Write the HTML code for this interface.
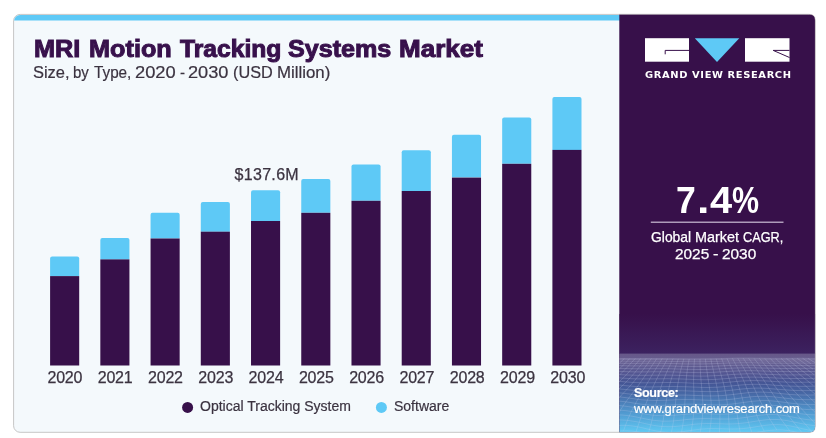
<!DOCTYPE html>
<html lang="en">
<head>
<meta charset="utf-8">
<title>MRI Motion Tracking Systems Market</title>
<style>
  html, body { margin: 0; padding: 0; background: #ffffff; }
  body { width: 826px; height: 438px; position: relative; overflow: hidden;
         font-family: "Liberation Sans", sans-serif; }
  .abs { position: absolute; white-space: nowrap; line-height: 1; }
  svg.abs { left: 0; top: 0; }
  .tw { font-size: 23.5px; font-weight: bold; color: #38114c; -webkit-text-stroke: 1px #38114c; transform-origin: 0 0; }
  .sw { font-size: 16px; color: #3b3340; -webkit-text-stroke: 0.2px #3b3340; transform-origin: 0 0; }
  .yr { top: 369.7px; font-size: 16px; color: #3b3340; width: 60px; text-align: center; letter-spacing: -0.2px; -webkit-text-stroke: 0.25px #3b3340; }
  .val { left: 234.5px; top: 166.5px; font-size: 16px; color: #3b3340; letter-spacing: 0.32px; -webkit-text-stroke: 0.25px #3b3340; }
  .leg { top: 399.1px; font-size: 14px; color: #3b3340; -webkit-text-stroke: 0.2px #3b3340; }
  .w { color: #ffffff; }
  .pw { color: #ffffff; font-size: 14px; -webkit-text-stroke: 0.25px #ffffff; transform-origin: 0 0; }
  .bw { color: #ffffff; font-size: 36px; font-weight: bold; transform-origin: 0 0; }
</style>
</head>
<body>

<svg class="abs" width="826" height="438" viewBox="0 0 826 438">
  <defs>
    <linearGradient id="g1" x1="0" y1="0" x2="0" y2="1">
      <stop offset="0" stop-color="#37104a"/>
      <stop offset="1" stop-color="#3c2260"/>
    </linearGradient>
    <linearGradient id="g2" x1="0" y1="0" x2="0" y2="1">
      <stop offset="0" stop-color="#3f2c69"/>
      <stop offset="0.25" stop-color="#414486"/>
      <stop offset="0.5" stop-color="#4767a4"/>
      <stop offset="0.75" stop-color="#519ad0"/>
      <stop offset="1" stop-color="#60caf4"/>
    </linearGradient>
    <linearGradient id="g3" x1="0" y1="0" x2="0" y2="1">
      <stop offset="0" stop-color="#ffffff" stop-opacity="0.21"/>
      <stop offset="0.3" stop-color="#ffffff" stop-opacity="0.2"/>
      <stop offset="1" stop-color="#ffffff" stop-opacity="0"/>
    </linearGradient>
    <clipPath id="cc"><rect x="14.1" y="14.9" width="800.4" height="416.9" rx="6" ry="6"/></clipPath>
    <clipPath id="cp"><path d="M619.3 14.5 H809.6 Q815.1 14.5 815.1 20 V426.7 Q815.1 432.2 809.6 432.2 H619.3 Z"/></clipPath>
  </defs>
  <rect x="13.6" y="14.4" width="801.4" height="417.9" rx="6.5" ry="6.5" fill="#f4f9fc" stroke="#c6c6c6" stroke-width="1"/>
  <g clip-path="url(#cc)">
    <rect x="13" y="14" width="607" height="6.5" fill="#5ec9f6"/>
  </g>
  <g id="bars">
    <path d="M50.10 276.10 V258.40 Q50.10 256.40 52.10 256.40 H77.20 Q79.20 256.40 79.20 258.40 V276.10 Z" fill="#5ec9f6"/>
    <rect x="50.10" y="276.10" width="29.1" height="89.40" fill="#37104a"/>
    <path d="M100.33 259.40 V240.10 Q100.33 238.10 102.33 238.10 H127.43 Q129.43 238.10 129.43 240.10 V259.40 Z" fill="#5ec9f6"/>
    <rect x="100.33" y="259.40" width="29.1" height="106.10" fill="#37104a"/>
    <path d="M150.56 238.50 V214.80 Q150.56 212.80 152.56 212.80 H177.66 Q179.66 212.80 179.66 214.80 V238.50 Z" fill="#5ec9f6"/>
    <rect x="150.56" y="238.50" width="29.1" height="127.00" fill="#37104a"/>
    <path d="M200.79 231.70 V204.10 Q200.79 202.10 202.79 202.10 H227.89 Q229.89 202.10 229.89 204.10 V231.70 Z" fill="#5ec9f6"/>
    <rect x="200.79" y="231.70" width="29.1" height="133.80" fill="#37104a"/>
    <path d="M251.02 221.00 V192.30 Q251.02 190.30 253.02 190.30 H278.12 Q280.12 190.30 280.12 192.30 V221.00 Z" fill="#5ec9f6"/>
    <rect x="251.02" y="221.00" width="29.1" height="144.50" fill="#37104a"/>
    <path d="M301.25 212.80 V181.00 Q301.25 179.00 303.25 179.00 H328.35 Q330.35 179.00 330.35 181.00 V212.80 Z" fill="#5ec9f6"/>
    <rect x="301.25" y="212.80" width="29.1" height="152.70" fill="#37104a"/>
    <path d="M351.48 200.80 V166.60 Q351.48 164.60 353.48 164.60 H378.58 Q380.58 164.60 380.58 166.60 V200.80 Z" fill="#5ec9f6"/>
    <rect x="351.48" y="200.80" width="29.1" height="164.70" fill="#37104a"/>
    <path d="M401.71 191.00 V152.20 Q401.71 150.20 403.71 150.20 H428.81 Q430.81 150.20 430.81 152.20 V191.00 Z" fill="#5ec9f6"/>
    <rect x="401.71" y="191.00" width="29.1" height="174.50" fill="#37104a"/>
    <path d="M451.94 177.60 V136.80 Q451.94 134.80 453.94 134.80 H479.04 Q481.04 134.80 481.04 136.80 V177.60 Z" fill="#5ec9f6"/>
    <rect x="451.94" y="177.60" width="29.1" height="187.90" fill="#37104a"/>
    <path d="M502.17 163.80 V119.50 Q502.17 117.50 504.17 117.50 H529.27 Q531.27 117.50 531.27 119.50 V163.80 Z" fill="#5ec9f6"/>
    <rect x="502.17" y="163.80" width="29.1" height="201.70" fill="#37104a"/>
    <path d="M552.40 149.90 V98.90 Q552.40 96.90 554.40 96.90 H579.50 Q581.50 96.90 581.50 98.90 V149.90 Z" fill="#5ec9f6"/>
    <rect x="552.40" y="149.90" width="29.1" height="215.60" fill="#37104a"/>
  </g>
  <circle cx="187.6" cy="407.4" r="5.5" fill="#37104a"/>
  <circle cx="381.4" cy="407.4" r="5.5" fill="#5ec9f6"/>
  <path d="M619.3 14.5 H809.6 Q815.1 14.5 815.1 20 V426.7 Q815.1 432.2 809.6 432.2 H619.3 Z" fill="#37104a"/>
  <g clip-path="url(#cp)">
    <rect x="619.3" y="314" width="197" height="40" fill="url(#g1)"/>
    <rect x="619.3" y="353.6" width="197" height="79" fill="url(#g2)"/>
    <rect x="619.3" y="353.6" width="197" height="30" fill="url(#g3)"/>
    <g id="mesh" fill="none" stroke="#d0d6f2" stroke-opacity="0.27" stroke-width="0.8">
      <polyline points="617.0,358.4 622.0,358.5 627.0,358.5 632.0,358.5 637.0,358.5 642.0,358.5 647.0,358.5 652.0,358.5 657.0,358.5 662.0,358.5 667.0,358.6 672.0,358.6 677.0,358.7 682.0,358.8 687.0,358.9 692.0,358.9 697.0,358.9 702.0,358.8 707.0,358.8 712.0,358.7 717.0,358.6 722.0,358.5 727.0,358.4 732.0,358.3 737.0,358.2 742.0,358.2 747.0,358.2 752.0,358.2 757.0,358.3 762.0,358.3 767.0,358.4 772.0,358.4 777.0,358.4 782.0,358.4 787.0,358.4 792.0,358.4 797.0,358.3 802.0,358.3 807.0,358.4 812.0,358.4 817.0,358.5"/>
      <polyline points="617.0,359.4 622.0,359.4 627.0,359.5 632.0,359.5 637.0,359.5 642.0,359.5 647.0,359.4 652.0,359.4 657.0,359.5 662.0,359.5 667.0,359.6 672.0,359.6 677.0,359.7 682.0,359.8 687.0,359.9 692.0,359.9 697.0,359.9 702.0,359.9 707.0,359.8 712.0,359.7 717.0,359.6 722.0,359.4 727.0,359.3 732.0,359.2 737.0,359.2 742.0,359.1 747.0,359.2 752.0,359.2 757.0,359.2 762.0,359.3 767.0,359.3 772.0,359.4 777.0,359.4 782.0,359.4 787.0,359.4 792.0,359.3 797.0,359.3 802.0,359.3 807.0,359.3 812.0,359.4 817.0,359.4"/>
      <polyline points="617.0,361.1 622.0,361.1 627.0,361.2 632.0,361.2 637.0,361.2 642.0,361.2 647.0,361.2 652.0,361.1 657.0,361.2 662.0,361.2 667.0,361.3 672.0,361.4 677.0,361.5 682.0,361.6 687.0,361.6 692.0,361.7 697.0,361.7 702.0,361.7 707.0,361.6 712.0,361.4 717.0,361.3 722.0,361.1 727.0,361.0 732.0,360.9 737.0,360.8 742.0,360.8 747.0,360.8 752.0,360.8 757.0,360.9 762.0,360.9 767.0,361.0 772.0,361.0 777.0,361.1 782.0,361.1 787.0,361.0 792.0,361.0 797.0,361.0 802.0,361.0 807.0,361.0 812.0,361.0 817.0,361.1"/>
      <polyline points="617.0,363.2 622.0,363.3 627.0,363.3 632.0,363.4 637.0,363.4 642.0,363.3 647.0,363.3 652.0,363.3 657.0,363.3 662.0,363.3 667.0,363.4 672.0,363.5 677.0,363.6 682.0,363.8 687.0,363.9 692.0,363.9 697.0,363.9 702.0,363.9 707.0,363.8 712.0,363.7 717.0,363.5 722.0,363.3 727.0,363.1 732.0,363.0 737.0,362.9 742.0,362.8 747.0,362.8 752.0,362.8 757.0,362.9 762.0,363.0 767.0,363.1 772.0,363.2 777.0,363.2 782.0,363.2 787.0,363.2 792.0,363.2 797.0,363.1 802.0,363.1 807.0,363.1 812.0,363.2 817.0,363.2"/>
      <polyline points="617.0,365.6 622.0,365.7 627.0,365.8 632.0,365.9 637.0,365.9 642.0,365.9 647.0,365.9 652.0,365.8 657.0,365.8 662.0,365.9 667.0,365.9 672.0,366.0 677.0,366.2 682.0,366.3 687.0,366.4 692.0,366.5 697.0,366.6 702.0,366.5 707.0,366.4 712.0,366.3 717.0,366.1 722.0,365.8 727.0,365.6 732.0,365.4 737.0,365.3 742.0,365.2 747.0,365.2 752.0,365.2 757.0,365.3 762.0,365.4 767.0,365.5 772.0,365.6 777.0,365.7 782.0,365.7 787.0,365.7 792.0,365.7 797.0,365.6 802.0,365.6 807.0,365.6 812.0,365.6 817.0,365.7"/>
      <polyline points="617.0,368.3 622.0,368.5 627.0,368.6 632.0,368.7 637.0,368.8 642.0,368.8 647.0,368.7 652.0,368.7 657.0,368.7 662.0,368.7 667.0,368.7 672.0,368.8 677.0,369.0 682.0,369.1 687.0,369.3 692.0,369.4 697.0,369.5 702.0,369.5 707.0,369.4 712.0,369.2 717.0,369.0 722.0,368.7 727.0,368.4 732.0,368.2 737.0,368.0 742.0,367.9 747.0,367.8 752.0,367.8 757.0,367.9 762.0,368.1 767.0,368.2 772.0,368.3 777.0,368.4 782.0,368.5 787.0,368.5 792.0,368.5 797.0,368.4 802.0,368.4 807.0,368.4 812.0,368.4 817.0,368.5"/>
      <polyline points="617.0,371.3 622.0,371.5 627.0,371.7 632.0,371.8 637.0,371.9 642.0,371.9 647.0,371.9 652.0,371.8 657.0,371.8 662.0,371.8 667.0,371.8 672.0,371.9 677.0,372.0 682.0,372.2 687.0,372.4 692.0,372.5 697.0,372.6 702.0,372.6 707.0,372.6 712.0,372.4 717.0,372.1 722.0,371.8 727.0,371.5 732.0,371.2 737.0,371.0 742.0,370.8 747.0,370.7 752.0,370.7 757.0,370.8 762.0,371.0 767.0,371.1 772.0,371.3 777.0,371.4 782.0,371.5 787.0,371.6 792.0,371.6 797.0,371.5 802.0,371.5 807.0,371.5 812.0,371.5 817.0,371.5"/>
      <polyline points="617.0,374.4 622.0,374.7 627.0,375.0 632.0,375.1 637.0,375.3 642.0,375.3 647.0,375.3 652.0,375.2 657.0,375.2 662.0,375.1 667.0,375.1 672.0,375.2 677.0,375.3 682.0,375.5 687.0,375.7 692.0,375.9 697.0,376.0 702.0,376.1 707.0,376.0 712.0,375.8 717.0,375.6 722.0,375.3 727.0,374.9 732.0,374.5 737.0,374.2 742.0,374.0 747.0,373.8 752.0,373.8 757.0,373.9 762.0,374.1 767.0,374.3 772.0,374.5 777.0,374.7 782.0,374.8 787.0,374.9 792.0,374.9 797.0,374.9 802.0,374.8 807.0,374.8 812.0,374.8 817.0,374.8"/>
      <polyline points="617.0,377.7 622.0,378.1 627.0,378.4 632.0,378.7 637.0,378.9 642.0,378.9 647.0,378.9 652.0,378.9 657.0,378.8 662.0,378.8 667.0,378.7 672.0,378.8 677.0,378.9 682.0,379.0 687.0,379.2 692.0,379.4 697.0,379.6 702.0,379.7 707.0,379.7 712.0,379.5 717.0,379.3 722.0,378.9 727.0,378.5 732.0,378.1 737.0,377.7 742.0,377.4 747.0,377.2 752.0,377.1 757.0,377.2 762.0,377.3 767.0,377.6 772.0,377.8 777.0,378.1 782.0,378.3 787.0,378.4 792.0,378.5 797.0,378.5 802.0,378.5 807.0,378.4 812.0,378.4 817.0,378.4"/>
      <polyline points="617.0,381.2 622.0,381.6 627.0,382.0 632.0,382.4 637.0,382.6 642.0,382.8 647.0,382.8 652.0,382.8 657.0,382.7 662.0,382.6 667.0,382.5 672.0,382.5 677.0,382.6 682.0,382.7 687.0,382.9 692.0,383.2 697.0,383.3 702.0,383.5 707.0,383.5 712.0,383.4 717.0,383.2 722.0,382.8 727.0,382.4 732.0,381.9 737.0,381.4 742.0,381.0 747.0,380.8 752.0,380.6 757.0,380.6 762.0,380.8 767.0,381.0 772.0,381.3 777.0,381.7 782.0,381.9 787.0,382.1 792.0,382.3 797.0,382.3 802.0,382.3 807.0,382.2 812.0,382.2 817.0,382.1"/>
      <polyline points="617.0,384.9 622.0,385.3 627.0,385.8 632.0,386.2 637.0,386.6 642.0,386.8 647.0,386.9 652.0,386.9 657.0,386.8 662.0,386.7 667.0,386.6 672.0,386.5 677.0,386.6 682.0,386.7 687.0,386.8 692.0,387.0 697.0,387.2 702.0,387.4 707.0,387.5 712.0,387.4 717.0,387.2 722.0,386.9 727.0,386.4 732.0,385.9 737.0,385.4 742.0,384.9 747.0,384.6 752.0,384.3 757.0,384.3 762.0,384.4 767.0,384.6 772.0,385.0 777.0,385.4 782.0,385.7 787.0,386.0 792.0,386.2 797.0,386.3 802.0,386.4 807.0,386.3 812.0,386.2 817.0,386.2"/>
      <polyline points="617.0,388.7 622.0,389.2 627.0,389.7 632.0,390.2 637.0,390.7 642.0,391.0 647.0,391.2 652.0,391.3 657.0,391.2 662.0,391.1 667.0,390.9 672.0,390.8 677.0,390.7 682.0,390.8 687.0,390.9 692.0,391.1 697.0,391.3 702.0,391.5 707.0,391.6 712.0,391.6 717.0,391.5 722.0,391.1 727.0,390.7 732.0,390.2 737.0,389.6 742.0,389.0 747.0,388.6 752.0,388.3 757.0,388.1 762.0,388.2 767.0,388.4 772.0,388.8 777.0,389.2 782.0,389.6 787.0,390.0 792.0,390.3 797.0,390.5 802.0,390.6 807.0,390.6 812.0,390.5 817.0,390.4"/>
      <polyline points="617.0,392.6 622.0,393.1 627.0,393.7 632.0,394.3 637.0,394.9 642.0,395.3 647.0,395.6 652.0,395.8 657.0,395.8 662.0,395.6 667.0,395.4 672.0,395.3 677.0,395.1 682.0,395.1 687.0,395.1 692.0,395.3 697.0,395.5 702.0,395.7 707.0,395.9 712.0,395.9 717.0,395.8 722.0,395.6 727.0,395.1 732.0,394.6 737.0,394.0 742.0,393.4 747.0,392.8 752.0,392.4 757.0,392.2 762.0,392.1 767.0,392.3 772.0,392.7 777.0,393.2 782.0,393.7 787.0,394.2 792.0,394.6 797.0,394.9 802.0,395.0 807.0,395.1 812.0,395.0 817.0,394.9"/>
      <polyline points="617.0,396.7 622.0,397.2 627.0,397.8 632.0,398.5 637.0,399.2 642.0,399.8 647.0,400.2 652.0,400.4 657.0,400.5 662.0,400.4 667.0,400.2 672.0,400.0 677.0,399.7 682.0,399.6 687.0,399.6 692.0,399.6 697.0,399.8 702.0,400.0 707.0,400.2 712.0,400.3 717.0,400.3 722.0,400.1 727.0,399.7 732.0,399.2 737.0,398.6 742.0,397.9 747.0,397.3 752.0,396.7 757.0,396.4 762.0,396.3 767.0,396.4 772.0,396.7 777.0,397.2 782.0,397.8 787.0,398.4 792.0,398.9 797.0,399.4 802.0,399.6 807.0,399.7 812.0,399.7 817.0,399.6"/>
      <polyline points="617.0,400.9 622.0,401.4 627.0,402.0 632.0,402.8 637.0,403.6 642.0,404.3 647.0,404.8 652.0,405.2 657.0,405.4 662.0,405.4 667.0,405.2 672.0,404.9 677.0,404.6 682.0,404.4 687.0,404.2 692.0,404.2 697.0,404.3 702.0,404.4 707.0,404.6 712.0,404.8 717.0,404.9 722.0,404.8 727.0,404.5 732.0,404.0 737.0,403.4 742.0,402.7 747.0,402.0 752.0,401.3 757.0,400.9 762.0,400.6 767.0,400.6 772.0,400.9 777.0,401.4 782.0,402.0 787.0,402.7 792.0,403.3 797.0,403.9 802.0,404.3 807.0,404.6 812.0,404.6 817.0,404.5"/>
      <polyline points="617.0,405.4 622.0,405.8 627.0,406.4 632.0,407.2 637.0,408.0 642.0,408.9 647.0,409.6 652.0,410.1 657.0,410.4 662.0,410.5 667.0,410.4 672.0,410.1 677.0,409.7 682.0,409.4 687.0,409.1 692.0,408.9 697.0,408.9 702.0,409.0 707.0,409.2 712.0,409.4 717.0,409.5 722.0,409.5 727.0,409.3 732.0,408.9 737.0,408.3 742.0,407.6 747.0,406.9 752.0,406.1 757.0,405.5 762.0,405.2 767.0,405.1 772.0,405.2 777.0,405.7 782.0,406.3 787.0,407.0 792.0,407.8 797.0,408.5 802.0,409.1 807.0,409.5 812.0,409.7 817.0,409.6"/>
      <polyline points="617.0,410.0 622.0,410.3 627.0,410.8 632.0,411.6 637.0,412.5 642.0,413.5 647.0,414.4 652.0,415.1 657.0,415.5 662.0,415.7 667.0,415.7 672.0,415.4 677.0,415.0 682.0,414.6 687.0,414.2 692.0,413.9 697.0,413.7 702.0,413.7 707.0,413.8 712.0,414.0 717.0,414.2 722.0,414.2 727.0,414.1 732.0,413.9 737.0,413.4 742.0,412.7 747.0,411.9 752.0,411.2 757.0,410.5 762.0,410.0 767.0,409.7 772.0,409.8 777.0,410.1 782.0,410.7 787.0,411.5 792.0,412.4 797.0,413.2 802.0,413.9 807.0,414.5 812.0,414.8 817.0,414.9"/>
      <polyline points="617.0,414.9 622.0,415.0 627.0,415.5 632.0,416.2 637.0,417.1 642.0,418.2 647.0,419.2 652.0,420.1 657.0,420.7 662.0,421.1 667.0,421.2 672.0,421.0 677.0,420.6 682.0,420.1 687.0,419.5 692.0,419.1 697.0,418.8 702.0,418.6 707.0,418.6 712.0,418.7 717.0,418.9 722.0,419.0 727.0,419.0 732.0,418.9 737.0,418.5 742.0,417.9 747.0,417.2 752.0,416.4 757.0,415.6 762.0,415.0 767.0,414.6 772.0,414.5 777.0,414.7 782.0,415.2 787.0,416.0 792.0,416.9 797.0,417.9 802.0,418.8 807.0,419.6 812.0,420.1 817.0,420.3"/>
      <polyline points="617.0,420.0 622.0,420.0 627.0,420.3 632.0,421.0 637.0,421.8 642.0,422.9 647.0,424.0 652.0,425.1 657.0,425.9 662.0,426.5 667.0,426.7 672.0,426.7 677.0,426.3 682.0,425.8 687.0,425.2 692.0,424.5 697.0,424.0 702.0,423.7 707.0,423.5 712.0,423.5 717.0,423.7 722.0,423.8 727.0,424.0 732.0,423.9 737.0,423.7 742.0,423.2 747.0,422.6 752.0,421.8 757.0,421.0 762.0,420.3 767.0,419.7 772.0,419.5 777.0,419.5 782.0,419.9 787.0,420.6 792.0,421.6 797.0,422.7 802.0,423.7 807.0,424.6 812.0,425.3 817.0,425.8"/>
      <polyline points="617.0,425.4 622.0,425.3 627.0,425.4 632.0,425.9 637.0,426.7 642.0,427.7 647.0,428.9 652.0,430.1 657.0,431.1 662.0,431.9 667.0,432.4 672.0,432.5 677.0,432.2 682.0,431.7 687.0,431.0 692.0,430.3 697.0,429.6 702.0,429.0 707.0,428.7 712.0,428.5 717.0,428.6 722.0,428.7 727.0,428.9 732.0,429.0 737.0,428.9 742.0,428.6 747.0,428.1 752.0,427.4 757.0,426.6 762.0,425.8 767.0,425.1 772.0,424.7 777.0,424.6 782.0,424.8 787.0,425.4 792.0,426.3 797.0,427.4 802.0,428.6 807.0,429.7 812.0,430.6 817.0,431.3"/>
      <polyline points="617.0,431.1 622.0,430.8 627.0,430.8 632.0,431.1 637.0,431.7 642.0,432.7 647.0,433.8 652.0,435.1 657.0,436.3 662.0,437.3 667.0,438.0 672.0,438.3 677.0,438.2 682.0,437.8 687.0,437.1 692.0,436.3 697.0,435.4 702.0,434.6 707.0,434.0 712.0,433.7 717.0,433.6 722.0,433.6 727.0,433.8 732.0,434.0 737.0,434.0 742.0,433.9 747.0,433.6 752.0,433.0 757.0,432.3 762.0,431.5 767.0,430.7 772.0,430.2 777.0,429.9 782.0,429.9 787.0,430.4 792.0,431.2 797.0,432.3 802.0,433.5 807.0,434.8 812.0,435.9 817.0,436.8"/>
      <polyline points="624.4,358.5 618.8,363.8"/>
      <polyline points="629.8,358.5 624.6,363.9 619.2,369.1"/>
      <polyline points="635.2,358.5 630.3,363.9 625.3,369.3 620.2,374.3"/>
      <polyline points="640.6,358.5 636.1,363.9 631.3,369.4 626.5,374.6 621.5,379.6 616.3,384.2"/>
      <polyline points="646.0,358.5 641.8,363.9 637.4,369.4 632.8,374.9 628.1,380.0 623.3,384.8 618.5,389.4"/>
      <polyline points="651.4,358.5 647.5,363.9 643.4,369.4 639.2,375.0 634.8,380.4 630.5,385.5 626.2,390.2 621.9,394.7 617.8,399.3"/>
      <polyline points="656.8,358.5 653.2,363.9 649.4,369.4 645.6,375.0 641.7,380.6 637.9,386.0 634.1,391.0 630.5,395.8 627.0,400.3 623.8,404.8 620.8,409.5 618.0,414.6 615.4,420.0"/>
      <polyline points="662.2,358.5 658.9,363.9 655.5,369.3 652.1,374.9 648.8,380.6 645.5,386.2 642.3,391.7 639.3,396.8 636.5,401.7 634.0,406.4 631.6,410.9 629.5,415.5 627.4,420.3 625.5,425.4 623.6,430.7"/>
      <polyline points="667.6,358.6 664.7,364.0 661.7,369.3 658.8,374.8 656.0,380.5 653.3,386.2 650.7,391.9 648.4,397.5 646.3,402.9 644.3,408.0 642.5,412.9 640.9,417.6 639.3,422.2 637.7,426.8 636.1,431.6"/>
      <polyline points="673.0,358.7 670.5,364.1 668.0,369.4 665.6,374.8 663.4,380.4 661.3,386.0 659.4,391.8 657.6,397.6 656.1,403.4 654.7,409.0 653.4,414.5 652.1,419.8 650.9,424.7 649.5,429.5 648.0,434.1"/>
      <polyline points="678.4,358.8 676.4,364.2 674.4,369.6 672.6,374.9 670.9,380.3 669.4,385.9 668.1,391.5 666.9,397.3 665.9,403.2 664.9,409.1 664.0,415.0 663.1,420.8 662.0,426.4 660.8,431.7 659.3,436.8"/>
      <polyline points="683.8,358.8 682.3,364.3 680.8,369.8 679.6,375.1 678.5,380.5 677.5,385.9 676.8,391.4 676.1,397.0 675.5,402.7 674.9,408.5 674.3,414.5 673.6,420.5 672.6,426.6 671.4,432.5 670.0,438.2"/>
      <polyline points="689.2,358.9 688.2,364.5 687.3,370.0 686.6,375.4 686.1,380.8 685.7,386.1 685.4,391.5 685.2,396.9 684.9,402.3 684.6,407.9 684.2,413.7 683.6,419.6 682.7,425.6 681.6,431.8 680.2,438.0"/>
      <polyline points="694.6,358.9 694.1,364.5 693.8,370.1 693.7,375.6 693.6,381.1 693.7,386.4 693.9,391.8 694.0,397.1 694.0,402.4 693.9,407.7 693.7,413.1 693.1,418.7 692.4,424.4 691.3,430.4 690.0,436.6"/>
      <polyline points="700.0,358.9 700.1,364.5 700.3,370.2 700.7,375.7 701.1,381.3 701.6,386.7 702.1,392.1 702.5,397.4 702.8,402.7 702.8,407.9 702.7,413.0 702.3,418.3 701.7,423.6 700.8,429.2 699.7,435.0"/>
      <polyline points="705.4,358.8 706.0,364.4 706.8,370.1 707.6,375.7 708.5,381.3 709.3,386.8 710.1,392.3 710.7,397.7 711.2,403.0 711.4,408.2 711.4,413.3 711.2,418.4 710.8,423.4 710.1,428.6 709.4,433.8"/>
      <polyline points="710.8,358.7 711.9,364.3 713.2,369.8 714.4,375.4 715.7,381.0 716.8,386.5 717.8,392.1 718.7,397.5 719.3,403.0 719.7,408.3 719.9,413.5 719.9,418.7 719.8,423.7 719.6,428.7 719.4,433.6"/>
      <polyline points="716.2,358.6 717.8,364.1 719.5,369.5 721.1,375.0 722.7,380.5 724.1,386.0 725.3,391.5 726.4,397.0 727.2,402.5 727.9,408.0 728.4,413.4 728.7,418.7 729.0,423.9 729.3,428.9 729.7,433.9"/>
      <polyline points="721.6,358.5 723.7,363.8 725.7,369.2 727.7,374.5 729.5,379.9 731.2,385.3 732.7,390.7 734.0,396.2 735.1,401.7 736.0,407.2 736.9,412.7 737.7,418.1 738.6,423.5 739.5,428.8 740.6,434.0"/>
      <polyline points="727.0,358.4 729.5,363.6 731.9,368.9 734.1,374.1 736.2,379.3 738.2,384.6 739.9,389.9 741.5,395.2 742.9,400.6 744.3,406.0 745.6,411.4 747.0,416.9 748.5,422.3 750.2,427.7 752.1,433.0"/>
      <polyline points="732.4,358.3 735.2,363.5 737.9,368.6 740.5,373.8 742.9,378.9 745.1,384.0 747.1,389.2 749.1,394.4 750.9,399.6 752.8,404.8 754.7,410.0 756.8,415.3 759.0,420.6 761.5,425.9 764.2,431.2"/>
      <polyline points="737.8,358.2 741.0,363.4 744.0,368.5 746.8,373.6 749.5,378.6 752.0,383.7 754.5,388.8 756.8,393.8 759.2,398.9 761.7,404.0 764.2,409.1 767.0,414.3 770.0,419.4 773.3,424.6 776.8,429.9"/>
      <polyline points="743.2,358.2 746.7,363.3 750.0,368.5 753.1,373.6 756.1,378.6 759.1,383.7 761.9,388.8 764.8,393.8 767.8,398.9 770.9,404.1 774.2,409.2 777.7,414.5 781.5,419.8 785.5,425.2 789.8,430.8"/>
      <polyline points="748.6,358.2 752.4,363.4 756.0,368.5 759.5,373.7 762.9,378.8 766.3,384.0 769.6,389.2 773.1,394.4 776.7,399.6 780.5,405.0 784.5,410.4 788.7,416.0 793.3,421.8 798.0,427.7 802.9,433.8"/>
      <polyline points="754.0,358.3 758.1,363.5 762.1,368.7 765.9,373.9 769.8,379.2 773.6,384.5 777.6,389.8 781.7,395.3 786.0,400.8 790.4,406.5 795.2,412.2 800.1,418.2 805.3,424.2 810.6,430.4 816.0,436.7"/>
      <polyline points="759.4,358.3 763.8,363.6 768.2,368.9 772.5,374.2 776.8,379.6 781.3,385.0 785.8,390.6 790.5,396.2 795.5,401.9 800.6,407.8 806.0,413.7 811.6,419.7 817.3,425.7"/>
      <polyline points="764.8,358.4 769.6,363.7 774.4,369.0 779.2,374.4 784.1,379.9 789.1,385.5 794.3,391.1 799.6,396.8 805.2,402.5 811.0,408.3 816.9,414.2"/>
      <polyline points="770.2,358.4 775.4,363.8 780.7,369.1 786.0,374.6 791.4,380.1 797.1,385.7 802.9,391.3 808.9,396.9 815.0,402.6"/>
      <polyline points="775.6,358.4 781.3,363.8 787.0,369.2 792.9,374.6 799.0,380.1 805.2,385.6 811.6,391.2 818.1,396.7"/>
      <polyline points="781.0,358.4 787.2,363.8 793.5,369.1 799.9,374.6 806.5,380.0 813.3,385.5"/>
      <polyline points="786.4,358.4 793.1,363.7 800.0,369.1 807.0,374.5 814.2,380.0"/>
      <polyline points="791.8,358.4 799.0,363.7 806.5,369.0 814.0,374.5"/>
      <polyline points="797.2,358.3 805.0,363.7 813.0,369.1"/>
      <polyline points="802.6,358.3 810.9,363.7"/>
      <polyline points="808.0,358.4 816.9,363.8"/>
    </g>
  </g>
  <path d="M619.3 14.3 H809.6 Q815.3 14.3 815.3 20 V426.7 Q815.3 432.4 809.6 432.4 H619.3" fill="none" stroke="#c9c0c0" stroke-opacity="0.55" stroke-width="0.8"/>
  <g id="logo">
    <rect x="645" y="38.2" width="44" height="23.5" fill="#ffffff"/>
    <path d="M689 50.4 H665.2 V54.3" fill="none" stroke="#37104a" stroke-width="1"/>
    <polygon points="694.8,38.2 739.3,38.2 717,61.9" fill="#5ec9f6"/>
    <rect x="745" y="38.2" width="44.5" height="23.5" fill="#ffffff"/>
    <path d="M789.5 50.4 H773.2 L789.5 57.5" fill="none" stroke="#37104a" stroke-width="1"/>
  </g>
  <rect x="650.8" y="221.6" width="132.7" height="1.2" fill="#cdbfd6"/>
</svg>

<div class="title"><span class="abs tw" style="left:34.12px; top:37.5px; transform:scaleX(1.0756);">MRI</span> <span class="abs tw" style="left:89.33px; top:37.5px; transform:scaleX(1.0747);">Motion</span> <span class="abs tw" style="left:179.86px; top:37.5px; transform:scaleX(1.0486);">Tracking</span> <span class="abs tw" style="left:287.73px; top:37.5px; transform:scaleX(1.0688);">Systems</span> <span class="abs tw" style="left:399.49px; top:37.5px; transform:scaleX(1.1067);">Market</span></div>
<div class="subtitle"><span class="abs sw" style="left:33.23px; top:65.3px; transform:scaleX(1.0269);">Size,</span> <span class="abs sw" style="left:73.46px; top:65.3px; transform:scaleX(0.9375);">by</span> <span class="abs sw" style="left:93.76px; top:65.3px; transform:scaleX(0.9547);">Type,</span> <span class="abs sw" style="left:134.84px; top:65.3px; transform:scaleX(1.1445);">2020</span> <span class="abs sw" style="left:180.43px; top:65.3px; transform:scaleX(0.9412);">-</span> <span class="abs sw" style="left:188.45px; top:65.3px; transform:scaleX(1.1358);">2030</span> <span class="abs sw" style="left:233.38px; top:65.3px; transform:scaleX(1.0160);">(USD</span> <span class="abs sw" style="left:276.69px; top:65.3px; transform:scaleX(1.0515);">Million)</span></div>
<div class="abs val">$137.6M</div>

<div id="years">
  <div class="abs yr" style="left:34.85px;">2020</div>
  <div class="abs yr" style="left:85.14px;">2021</div>
  <div class="abs yr" style="left:135.43px;">2022</div>
  <div class="abs yr" style="left:185.72px;">2023</div>
  <div class="abs yr" style="left:236.01px;">2024</div>
  <div class="abs yr" style="left:286.30px;">2025</div>
  <div class="abs yr" style="left:336.59px;">2026</div>
  <div class="abs yr" style="left:386.88px;">2027</div>
  <div class="abs yr" style="left:437.17px;">2028</div>
  <div class="abs yr" style="left:487.46px;">2029</div>
  <div class="abs yr" style="left:537.75px;">2030</div>
</div>

<div class="abs leg" style="left:200px;">Optical Tracking System</div>
<div class="abs leg" style="left:394px;">Software</div>

<div class="abs w" style="left:644.6px; top:71.3px; font-family:'DejaVu Sans','Liberation Sans',sans-serif; font-weight:bold; font-size:9px; letter-spacing:0.56px; transform:scaleX(1.1); transform-origin:0 0;">GRAND VIEW RESEARCH</div>
<div class="big"><span class="abs bw" style="left:675.72px; top:182.8px; transform:scaleX(0.9882);">7</span><span class="abs bw" style="left:697.40px; top:182.8px; transform:scaleX(1.2400);">.</span><span class="abs bw" style="left:709.85px; top:182.8px; transform:scaleX(1.1065);">4</span><span class="abs bw" style="left:732.16px; top:182.8px; transform:scaleX(0.8433);">%</span></div>
<div class="cagr"><span class="abs pw" style="left:651.00px; top:229.9px; transform:scaleX(0.9911);">Global</span> <span class="abs pw" style="left:694.77px; top:229.9px; transform:scaleX(1.0299);">Market</span> <span class="abs pw" style="left:742.85px; top:229.9px; transform:scaleX(0.9076);">CAGR,</span></div>
<div class="cagr"><span class="abs pw" style="left:675.05px; top:247.2px; transform:scaleX(1.0975);">2025</span> <span class="abs pw" style="left:712.81px; top:247.2px; transform:scaleX(1.1733);">-</span> <span class="abs pw" style="left:721.85px; top:247.2px; transform:scaleX(1.0975);">2030</span></div>
<div class="abs w" style="left:634px; top:386.8px; font-size:12.5px; font-weight:bold; letter-spacing:-0.3px; -webkit-text-stroke:0.2px #fff;">Source:</div>
<div class="abs w" style="left:634px; top:401.9px; font-size:13px; letter-spacing:-0.13px; -webkit-text-stroke:0.2px #fff;">www.grandviewresearch.com</div>
</body>
</html>
